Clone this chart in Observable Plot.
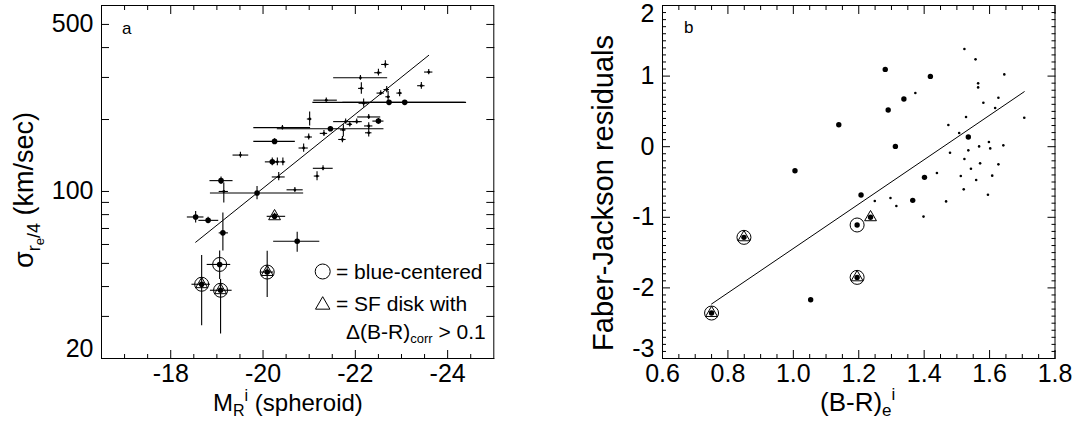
<!DOCTYPE html>
<html><head><meta charset="utf-8">
<script src="https://cdn.jsdelivr.net/npm/d3@7"></script>
<script src="https://cdn.jsdelivr.net/npm/@observablehq/plot@0.6"></script>
<style>
body{margin:0;background:#fff;}
#wrap{position:relative;width:1078px;height:432px;background:#fff;font-family:"Liberation Sans",Arial,sans-serif;}
#wrap svg{position:absolute;top:0;overflow:visible;}
</style></head><body><div id="wrap"></div>
<script>
// ---------------- Panel a data ----------------
const aMag   = [-22.65,-22.50,-23.59,-22.11,-22.13,-23.43,-22.68,-22.55,-22.96,-22.71,-21.37,-22.18,-22.73,-23.07,-22.29,-22.50,-22.29,-22.29,-21.79,-21.88,-22.03,-21.74,-21.72,-21.46,-20.42,-21.01,-20.99,-21.32,-20.88,-20.25,-19.51,-20.20,-20.31,-20.43,-20.34,-21.30,-21.17,-19.09,-19.15,-19.87,-20.69,-18.54,-18.81,-19.13,-20.25,-20.74,-19.06,-18.67,-19.08,-20.09];
const aSigma = [340,314,316,299,270,277,267,258,258,249,241,234,236,236,205,197,188,176,196,191,196,181,165,183,185,201,169,175,152,162,142,133,133,133,115,125,116,111,100,98.5,101.6,78.2,75.7,67.1,78.7,61.9,49.5,40.9,38.6,46.0];
const aMagLo = [-22.57,-22.42,-23.50,-21.53,-22.07,-23.35,-22.62,-22.47,-22.90,-22.66,-21.10,-22.08,-21.08,-21.73,-22.05,-22.38,-22.20,-22.22,-21.53,-21.82,-21.95,-21.68,-21.64,-20.31,-19.80,-20.96,-20.91,-21.24,-20.78,-19.80,-19.35,-20.05,-20.25,-20.37,-20.20,-21.09,-21.11,-18.85,-19.05,-18.86,-20.52,-18.36,-18.61,-19.05,-20.09,-20.23,-18.79,-18.46,-18.86,-19.95];
const aMagHi = [-22.73,-22.58,-23.68,-22.70,-22.19,-23.51,-22.74,-22.63,-23.02,-22.76,-21.61,-22.28,-24.38,-24.41,-22.55,-22.62,-22.38,-22.36,-22.15,-21.94,-22.11,-21.80,-21.80,-22.62,-21.03,-21.06,-21.07,-21.40,-20.98,-20.70,-19.69,-20.31,-20.37,-20.49,-20.48,-21.52,-21.23,-19.35,-19.25,-20.88,-20.87,-18.72,-19.04,-19.25,-20.49,-21.23,-19.30,-18.86,-19.33,-20.23];
const aSigLo = [328,304,308,292,255,268,259,252,249,240,236,225,232,232,200,192,182,169,191,186,191,169,160,179,181,188,164,170,146,158,138,128,128,128,111,122,111,107,89.5,92.3,99,73.8,73.5,56.3,76.5,55.7,42.8,27.4,25.3,36.0];
const aSigHi = [352,325,324,306,285,286,275,264,267,262,246,244,240,240,210,202,194,186,201,196,201,190,170,187,189,215,174,180,158,166,146,138,138,138,120,128,121,115,108.4,105,104,82.5,78,81.3,81,67.5,56.3,54.0,42.8,56.2];
const aKind  = ["cross","cross","cross","cross","cross","cross","cross","cross","cross","cross","cross","cross","dot","dot","cross","dot","cross","cross","cross","cross","cross","cross","cross","dot","cross","cross","cross","cross","cross","dot","cross","dot","cross","cross","cross","cross","cross","dot","cross","dot","cross","dot","dot","dot","tri","dot","circ","circtri","circtri","circtri"];
const aFitMag = [-18.54, -23.59];
const aFitSigma = [61.3, 371.3];
const aXTicks = [-18, -20, -22, -24];
const aYTicks = [20, 100, 500];
const aYMinor = [30, 40, 50, 60, 70, 80, 90, 200, 300, 400];

// ---------------- Panel b data ----------------
const bColor = [1.139,1.005,1.207,1.281,1.419,1.338,1.290,1.312,1.535,1.401,1.365,1.053,
  1.523,1.557,1.645,1.565,1.565,1.373,1.627,1.581,1.617,1.528,1.706,1.474,1.507,1.598,1.568,1.602,1.642,1.535,1.479,1.523,1.571,1.543,1.627,1.439,1.512,1.608,1.559,1.521,1.595,1.297,1.249,1.315,1.467,1.398,
  1.236,1.195,0.849,1.195,0.750];
const bResid = [0.31,-0.34,-0.684,1.095,0.996,0.675,0.52,0.004,0.137,-0.434,-0.76,-2.167,
  1.384,1.237,1.024,0.897,0.84,0.76,0.694,0.623,0.548,0.42,0.41,0.307,0.194,0.066,0.004,-0.024,0.019,-0.052,-0.085,-0.175,-0.236,-0.312,-0.25,-0.373,-0.415,-0.41,-0.472,-0.604,-0.68,-0.727,-0.77,-0.84,-0.775,-0.99,
  -1.0,-1.109,-1.284,-1.851,-2.356];
const bKind = ["big","big","big","big","big","big","big","big","big","big","big","big",
  "small","small","small","small","small","small","small","small","small","small","small","small","small","small","small","small","small","small","small","small","small","small","small","small","small","small","small","small","small","small","small","small","small","small",
  "tri","circ","circtri","circtri","circtri"];
const bFitColor = [0.75, 1.706];
const bFitResid = [-2.228, 0.779];
const bXTicks = [0.6, 0.8, 1.0, 1.2, 1.4, 1.6, 1.8];
const bYTicks = [-3, -2, -1, 0, 1, 2];

const FONT = '"Liberation Sans", Arial, Helvetica, sans-serif';
const TICKFS = 25;
const wrap = document.getElementById("wrap");

const tickAxes = (xMaj, xMin, yMaj, yMin, fy) => [
  Plot.axisX(xMaj, {anchor: "bottom", tickSize: -8, tickFormat: () => "", label: null}),
  Plot.axisX(xMaj, {anchor: "top", tickSize: -8, tickFormat: () => "", label: null}),
  Plot.axisX(xMin, {anchor: "bottom", tickSize: -4, tickFormat: () => "", label: null}),
  Plot.axisX(xMin, {anchor: "top", tickSize: -4, tickFormat: () => "", label: null}),
  Plot.axisY(yMaj, {anchor: "left", tickSize: -8, tickFormat: () => "", label: null}),
  Plot.axisY(yMaj, {anchor: "right", tickSize: -8, tickFormat: () => "", label: null}),
  Plot.axisY(yMin, {anchor: "left", tickSize: fy, tickFormat: () => "", label: null}),
  Plot.axisY(yMin, {anchor: "right", tickSize: fy, tickFormat: () => "", label: null})
];
// y tick labels: the extreme labels are kept inside the frame's height, as in the original
const yLabels = (ticks, lo, hi, fmt) => [
  Plot.axisY(ticks.filter(t => t !== lo && t !== hi), {anchor: "left", tickSize: 0, tickPadding: 8, fontSize: TICKFS, tickFormat: fmt, label: null}),
  Plot.axisY([lo], {anchor: "left", tickSize: 0, tickPadding: 8, fontSize: TICKFS, tickFormat: fmt, label: null, dy: -10}),
  Plot.axisY([hi], {anchor: "left", tickSize: 0, tickPadding: 8, fontSize: TICKFS, tickFormat: fmt, label: null, dy: hi === 2 ? 8 : 0})
];

// ---------- Panel a ----------
const aRows = aMag.map((m, i) => ({m, s: aSigma[i], mlo: aMagLo[i], mhi: aMagHi[i], slo: aSigLo[i], shi: aSigHi[i], k: aKind[i]}));
const aXMinor = d3.range(-17, -24.99, -0.5).filter(v => !aXTicks.includes(v));

const plotA = Plot.plot({
  width: 540, height: 432,
  marginLeft: 101, marginRight: 46.7, marginTop: 5, marginBottom: 74,
  x: {domain: [-16.5, -25]},
  y: {type: "log", domain: [20, 600]},
  style: {fontFamily: FONT, color: "black", background: "transparent", overflow: "visible"},
  marks: [
    Plot.frame({stroke: "black", strokeWidth: 1}),
    ...tickAxes(aXTicks, aXMinor, aYTicks, aYMinor, -8),
    Plot.axisX(aXTicks, {anchor: "bottom", tickSize: 0, tickPadding: 6, fontSize: TICKFS, tickFormat: d => String(d), label: null}),
    ...yLabels(aYTicks, 20, 500, d => String(d)),
    Plot.line(aFitMag.map((m, i) => ({m, s: aFitSigma[i]})), {x: "m", y: "s", stroke: "black", strokeWidth: 1}),
    Plot.ruleY(aRows, {y: "s", x1: "mlo", x2: "mhi", stroke: "black", strokeWidth: 1.1}),
    Plot.ruleX(aRows, {x: "m", y1: "slo", y2: "shi", stroke: "black", strokeWidth: 1.1}),
    Plot.dot(aRows.filter(d => d.k === "cross"), {x: "m", y: "s", r: 1.4, fill: "black"}),
    Plot.dot(aRows.filter(d => d.k !== "cross"), {x: "m", y: "s", r: 2.8, fill: "black"}),
    Plot.dot(aRows.filter(d => d.k === "circ" || d.k === "circtri"), {x: "m", y: "s", r: 7, stroke: "black", fill: "none", strokeWidth: 1}),
    Plot.dot(aRows.filter(d => d.k === "tri" || d.k === "circtri"), {x: "m", y: "s", r: 4.4, symbol: "triangle", stroke: "black", fill: "none", strokeWidth: 1})
  ]
});
plotA.style.left = "0px";
wrap.appendChild(plotA);

// ---------- Panel b ----------
const bRows = bColor.map((c, i) => ({c, r: bResid[i], k: bKind[i]}));
const bXMinor = d3.range(0.65, 1.79, 0.05).map(v => +v.toFixed(2)).filter(v => !bXTicks.some(t => Math.abs(t - v) < 1e-6));
const bYMinor = d3.range(-2.9, 1.95, 0.1).map(v => +v.toFixed(1)).filter(v => Math.abs(v - Math.round(v)) > 1e-6);

const plotB = Plot.plot({
  width: 538, height: 432,
  marginLeft: 122, marginRight: 23.5, marginTop: 5, marginBottom: 74,
  x: {domain: [0.6, 1.8]},
  y: {domain: [-3, 2]},
  style: {fontFamily: FONT, color: "black", background: "transparent", overflow: "visible"},
  marks: [
    Plot.frame({stroke: "black", strokeWidth: 1}),
    ...tickAxes(bXTicks, bXMinor, bYTicks, bYMinor, -4),
    Plot.axisX(bXTicks, {anchor: "bottom", tickSize: 0, tickPadding: 6, fontSize: TICKFS, tickFormat: d => d.toFixed(1), label: null}),
    ...yLabels(bYTicks, -3, 2, d => String(d)),
    Plot.line(bFitColor.map((c, i) => ({c, r: bFitResid[i]})), {x: "c", y: "r", stroke: "black", strokeWidth: 1}),
    Plot.dot(bRows.filter(d => d.k === "small"), {x: "c", y: "r", r: 1.3, fill: "black"}),
    Plot.dot(bRows.filter(d => d.k !== "small"), {x: "c", y: "r", r: 2.7, fill: "black"}),
    Plot.dot(bRows.filter(d => d.k === "circ" || d.k === "circtri"), {x: "c", y: "r", r: 7, stroke: "black", fill: "none", strokeWidth: 1}),
    Plot.dot(bRows.filter(d => d.k === "tri" || d.k === "circtri"), {x: "c", y: "r", r: 4.4, symbol: "triangle", stroke: "black", fill: "none", strokeWidth: 1})
  ]
});
plotB.style.left = "540px";
wrap.appendChild(plotB);

// ---------- Titles, labels and legend (text) ----------
function addText(svg, x, y, parts, opts = {}) {
  const t = d3.select(svg).append("text")
    .attr("x", x).attr("y", y)
    .attr("font-family", FONT)
    .attr("fill", "black")
    .attr("text-anchor", opts.anchor || "start");
  if (opts.rotate) t.attr("transform", `rotate(${opts.rotate},${x},${y})`);
  for (const p of parts) {
    const ts = t.append("tspan").text(p.t).attr("font-size", p.size);
    if (p.dy) ts.attr("dy", p.dy);
  }
  return t;
}
const sA = plotA, sB = plotB;
// panel letters
addText(sA, 122, 34, [{t: "a", size: 17}]);
addText(sB, 144, 33, [{t: "b", size: 17}]);
// panel a y label
addText(sA, 33, 190, [
  {t: "σ", size: 27},
  {t: "r", size: 18, dy: 7},
  {t: "e", size: 13, dy: 4},
  {t: "/4", size: 18, dy: -4},
  {t: " (km/sec)", size: 27, dy: -7}
], {rotate: -90, anchor: "middle"});
// panel a x label
addText(sA, 213, 411, [
  {t: "M", size: 24},
  {t: "R", size: 16, dy: 5},
  {t: "i", size: 16, dy: -15},
  {t: " (spheroid)", size: 24, dy: 10}
]);
// panel b y label
addText(sB, 73, 193, [{t: "Faber-Jackson residuals", size: 29}], {rotate: -90, anchor: "middle"});
// panel b x label
addText(sB, 280, 411, [
  {t: "(B-R)", size: 26},
  {t: "e", size: 17, dy: 5},
  {t: "i", size: 17, dy: -16}
]);
// legend in panel a
const lg = d3.select(sA).append("g");
lg.append("circle").attr("cx", 322.7).attr("cy", 271.5).attr("r", 7.5).attr("fill", "none").attr("stroke", "black");
addText(sA, 336, 279, [{t: "= blue-centered", size: 21}]);
const tri = d3.symbol(d3.symbolTriangle, 90)();
lg.append("path").attr("d", tri).attr("transform", "translate(322.7,305)").attr("fill", "none").attr("stroke", "black");
addText(sA, 336, 311, [{t: "= SF disk with", size: 21}]);
addText(sA, 346, 339, [
  {t: "Δ(B-R)", size: 21},
  {t: "corr", size: 13, dy: 4},
  {t: " > 0.1", size: 21, dy: -4}
]);
</script></body></html>
